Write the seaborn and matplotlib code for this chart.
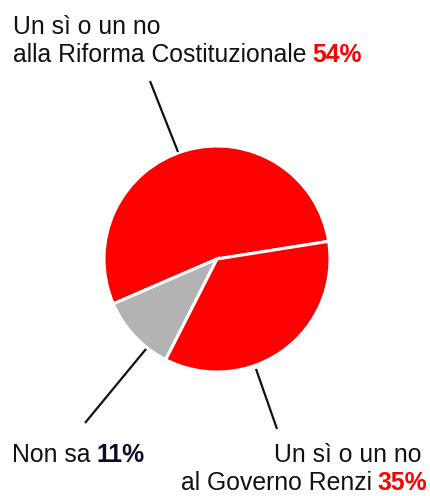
import matplotlib
matplotlib.use('Agg')
import matplotlib.pyplot as plt
import seaborn as sns

# dati
labels = ['Riforma Costituzionale', 'Non sa', 'Governo Renzi']
values = [54, 11, 35]
colors = ['#ff0000', '#b3b3b3', '#ff0000']

# linee di richiamo (coordinate nel raggio della torta)
leader_lines = [
    [(-0.345, 0.947), (-0.593, 1.575)],
    [(-0.628, -0.796), (-1.168, -1.451)],
    [(0.345, -0.973), (0.531, -1.504)],
]

sns.set_theme(style='white')
plt.rcParams['font.family'] = ['Liberation Sans', 'DejaVu Sans']

W, H = 430, 496
fig = plt.figure(figsize=(W / 100, H / 100), dpi=100)
fig.patch.set_facecolor('white')

# centro (217, 259), raggio 113 px
ax = fig.add_axes([104 / W, (H - 259 - 113) / H, 226 / W, 226 / H])
ax.pie(
    values,
    colors=colors,
    startangle=9,
    counterclock=True,
    radius=1,
    wedgeprops=dict(edgecolor='white', linewidth=2.2),
)
ax.set_xlim(-1, 1)
ax.set_ylim(-1, 1)
ax.axis('off')

for (x0, y0), (x1, y1) in leader_lines:
    ax.plot([x0, x1], [y0, y1], color='#111111', lw=1.6, clip_on=False,
            solid_capstyle='butt')

FS = 17.8


def px(x, y):
    return x / W, 1 - y / H


def label(x, y, txt, num, numcolor, ha='left'):
    if ha == 'left':
        t = fig.text(*px(x, y), txt, fontsize=FS, color='#111111',
                     ha='left', va='baseline')
        ax.annotate(num, xy=(1, 0), xycoords=t, xytext=(4, 0),
                    textcoords='offset points', fontsize=FS,
                    fontweight='bold', color=numcolor,
                    ha='left', va='bottom', annotation_clip=False)
    else:
        n = fig.text(*px(x, y), num, fontsize=FS, fontweight='bold',
                     color=numcolor, ha='right', va='baseline')
        ax.annotate(txt, xy=(0, 0), xycoords=n, xytext=(-4, 0),
                    textcoords='offset points', fontsize=FS,
                    color='#111111', ha='right', va='bottom',
                    annotation_clip=False)


fig.text(*px(13, 34), 'Un sì o un no', fontsize=FS, color='#111111',
         ha='left', va='baseline')
label(13, 62, 'alla Riforma Costituzionale', '54%', '#ff0000')

label(12, 462, 'Non sa', '11%', '#0b0b2e')

fig.text(*px(421, 462), 'Un sì o un no', fontsize=FS, color='#111111',
         ha='right', va='baseline')
label(427, 490, 'al Governo Renzi', '35%', '#ff0000', ha='right')

plt.savefig('out.png', dpi=100, facecolor='white')
